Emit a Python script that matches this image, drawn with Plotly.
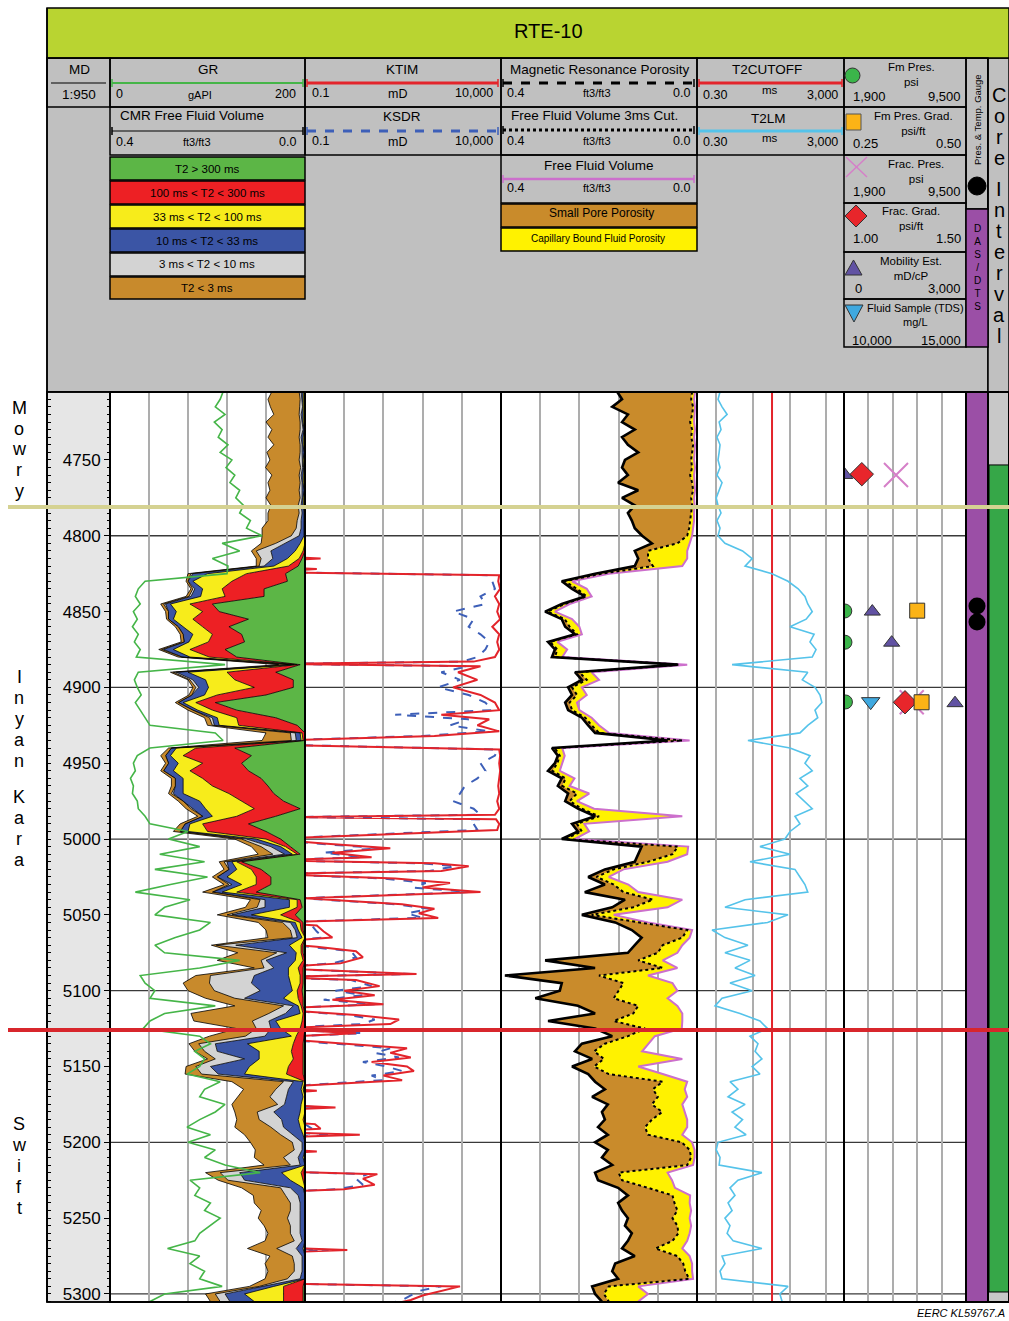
import numpy as np
import plotly.graph_objects as go

W, H = 1009, 1321
FONT = "Arial, Liberation Sans, sans-serif"

# ---------------------------------------------------------------- data
depth = [4705, 4710, 4715, 4720, 4725, 4730, 4735, 4740, 4745, 4750,
         4755, 4760, 4765, 4770, 4775, 4780, 4785, 4790, 4795, 4800,
         4805, 4810, 4815, 4820, 4825, 4830, 4835, 4840, 4845, 4850,
         4855, 4860, 4865, 4870, 4875, 4880, 4885, 4890, 4895, 4900,
         4905, 4910, 4915, 4920, 4925, 4930, 4935, 4940, 4945, 4950,
         4955, 4960, 4965, 4970, 4975, 4980, 4985, 4990, 4995, 5000,
         5005, 5010, 5015, 5020, 5025, 5030, 5035, 5040, 5045, 5050,
         5055, 5060, 5065, 5070, 5075, 5080, 5085, 5090, 5095, 5100,
         5105, 5110, 5115, 5120, 5125, 5130, 5135, 5140, 5145, 5150,
         5155, 5160, 5165, 5170, 5175, 5180, 5185, 5190, 5195, 5200,
         5205, 5210, 5215, 5220, 5225, 5230, 5235, 5240, 5245, 5250,
         5255, 5260, 5265, 5270, 5275, 5280, 5285, 5290, 5295, 5300, 5305]

gr_api = [116, 113, 108, 118, 107, 115, 111, 121, 113, 125,
          119, 128, 123, 133, 129, 137, 133, 144, 140, 156,
          115, 133, 105, 121, 120, 36, 29, 26, 31, 24,
          28, 23, 29, 25, 31, 27, 118, 29, 25, 28,
          32, 26, 31, 36, 41, 108, 116, 41, 28, 24,
          26, 21, 24, 23, 28, 29, 36, 41, 80, 60,
          92, 51, 97, 46, 100, 62, 26, 82, 56, 46,
          103, 92, 67, 46, 56, 133, 92, 31, 36, 46,
          41, 108, 56, 41, 34, 92, 103, 87, 97, 92,
          79, 113, 97, 92, 118, 108, 92, 79, 103, 80,
          108, 97, 118, 154, 82, 92, 87, 103, 97, 113,
          103, 92, 87, 59, 92, 82, 97, 92, 115, 56, 41]

cmr_gt300 = [0.002, 0.002, 0.002, 0.002, 0.002, 0.002, 0.002, 0.002, 0.002, 0.002,
             0.001, 0.002, 0.002, 0.002, 0.002, 0.002, 0, 0, 0, 0,
             0, 0, 0.006, 0.014, 0.040, 0.036, 0.084, 0.084, 0.190, 0.176,
             0.116, 0.156, 0.130, 0.124, 0.164, 0.140, 0.010, 0.060, 0.024, 0.024,
             0.080, 0.184, 0.140, 0.060, 0.016, 0, 0, 0.144, 0.110, 0.130,
             0.116, 0.090, 0.076, 0.064, 0.044, 0.010, 0.060, 0.116, 0.080, 0.050,
             0.030, 0.010, 0.130, 0.090, 0.070, 0.070, 0.100, 0.010, 0.006, 0.020,
             0.004, 0.004, 0, 0.004, 0.004, 0, 0.004, 0.004, 0.004, 0.006,
             0.004, 0.004, 0, 0, 0, 0.002, 0.004, 0.004, 0.004, 0.004,
             0.004, 0, 0.004, 0, 0, 0, 0, 0, 0, 0,
             0, 0, 0, 0.002, 0, 0, 0, 0, 0, 0,
             0, 0, 0, 0, 0, 0, 0, 0, 0.004, 0.004, 0.004]
cmr_100_300 = [0, 0, 0, 0, 0, 0, 0, 0, 0, 0,
               0, 0, 0, 0, 0, 0, 0, 0, 0, 0,
               0, 0.004, 0.006, 0.020, 0.080, 0.114, 0.086, 0.080, 0.046, 0.034,
               0.114, 0.054, 0.060, 0.074, 0.072, 0.056, 0.006, 0.100, 0.120, 0.080,
               0.100, 0.040, 0.050, 0.080, 0.120, 0.006, 0.004, 0.080, 0.140, 0.080,
               0.120, 0.120, 0.114, 0.092, 0.086, 0.094, 0.080, 0.094, 0.120, 0.030,
               0.010, 0.006, 0.010, 0.020, 0.030, 0.030, 0.040, 0.006, 0.010, 0.030,
               0.006, 0.004, 0, 0.004, 0.004, 0.004, 0.010, 0.006, 0.006, 0.010,
               0.010, 0.004, 0.004, 0.006, 0.010, 0.016, 0.020, 0.024, 0.020, 0.030,
               0.034, 0, 0, 0, 0, 0, 0.004, 0, 0, 0,
               0, 0, 0, 0.006, 0.004, 0, 0, 0, 0, 0,
               0, 0, 0, 0, 0, 0, 0, 0, 0.040, 0.040, 0.040]
cmr_33_100 = [0.002, 0.002, 0.001, 0.002, 0.002, 0, 0.002, 0.002, 0, 0.002,
              0.002, 0.002, 0.002, 0, 0.002, 0.002, 0.002, 0.002, 0.002, 0.002,
              0.010, 0.016, 0.024, 0.030, 0.080, 0.080, 0.040, 0.050, 0.040, 0.054,
              0.040, 0.040, 0.040, 0.040, 0.034, 0.040, 0.006, 0.080, 0.060, 0.094,
              0.026, 0.026, 0.030, 0.040, 0.040, 0.004, 0.004, 0.040, 0.026, 0.050,
              0.034, 0.040, 0.060, 0.094, 0.086, 0.100, 0.050, 0.026, 0.040, 0.020,
              0.010, 0.010, 0.010, 0.030, 0.060, 0.030, 0.030, 0.016, 0.016, 0.060,
              0.010, 0.006, 0.006, 0.024, 0.010, 0.016, 0.020, 0.024, 0.020, 0.010,
              0.030, 0.006, 0.006, 0.054, 0.040, 0.010, 0.094, 0.066, 0.070, 0.080,
              0.086, 0.004, 0.004, 0.004, 0.008, 0.010, 0.010, 0.010, 0.004, 0,
              0, 0.004, 0, 0.040, 0.026, 0.004, 0, 0, 0, 0,
              0, 0, 0, 0.004, 0, 0, 0, 0, 0.020, 0.080, 0.060]
cmr_10_33 = [0.004, 0.002, 0.002, 0.004, 0.002, 0.002, 0.004, 0.002, 0.004, 0.002,
             0.002, 0.004, 0.002, 0.004, 0.002, 0.004, 0.004, 0.006, 0.006, 0.010,
             0.030, 0.050, 0.030, 0.020, 0.030, 0.010, 0.016, 0.020, 0.010, 0.016,
             0.010, 0.010, 0.020, 0.010, 0.020, 0.016, 0.006, 0.024, 0.026, 0.020,
             0.026, 0.010, 0.010, 0.010, 0.010, 0.010, 0.010, 0.010, 0.010, 0.020,
             0.020, 0.016, 0.016, 0.020, 0.034, 0.026, 0.020, 0.010, 0.016, 0.020,
             0.020, 0.016, 0.010, 0.016, 0.020, 0.020, 0.020, 0.050, 0.050, 0.040,
             0.010, 0.006, 0.010, 0.110, 0.020, 0.060, 0.030, 0.070, 0.080, 0.066,
             0.080, 0.010, 0.030, 0.014, 0.020, 0.054, 0.066, 0.086, 0.030, 0.080,
             0.054, 0.020, 0.026, 0.034, 0.034, 0.054, 0.034, 0.034, 0.020, 0.006,
             0.006, 0.010, 0.010, 0.086, 0.094, 0.026, 0.014, 0.010, 0.010, 0.010,
             0.010, 0.010, 0.006, 0.014, 0.006, 0.006, 0.006, 0.010, 0.020, 0.040, 0.050]
cmr_3_10 = [0.004, 0.004, 0.006, 0.004, 0.004, 0.006, 0.004, 0.004, 0.004, 0.006,
            0.004, 0.004, 0.004, 0.006, 0.004, 0.006, 0.006, 0.008, 0.010, 0.016,
            0.020, 0.030, 0.024, 0.010, 0.004, 0, 0.004, 0.004, 0.004, 0,
            0, 0, 0, 0, 0.004, 0, 0.006, 0.006, 0.006, 0.006,
            0, 0, 0, 0.006, 0.004, 0.010, 0.010, 0, 0, 0,
            0, 0, 0, 0.004, 0, 0.004, 0, 0, 0, 0.010,
            0.020, 0.024, 0.006, 0, 0, 0.006, 0, 0.010, 0.016, 0.010,
            0.016, 0.010, 0.010, 0.040, 0.020, 0.010, 0.020, 0.090, 0.086, 0.094,
            0.020, 0.020, 0.034, 0.034, 0.030, 0.040, 0.034, 0.026, 0.060, 0.030,
            0.034, 0.020, 0.026, 0.034, 0.014, 0.034, 0.046, 0.026, 0.026, 0.020,
            0.016, 0.030, 0.020, 0.040, 0.034, 0.020, 0.026, 0.020, 0.020, 0.026,
            0.020, 0.020, 0.016, 0.040, 0.020, 0.016, 0.016, 0.026, 0.010, 0.020, 0.020]
cmr_lt3 = [0.056, 0.066, 0.060, 0.052, 0.070, 0.058, 0.064, 0.054, 0.068, 0.060,
           0.072, 0.056, 0.066, 0.060, 0.070, 0.056, 0.064, 0.060, 0.070, 0.060,
           0.030, 0.010, 0.010, 0.006, 0.006, 0.004, 0.004, 0.006, 0.006, 0.006,
           0.004, 0.006, 0.006, 0.006, 0.006, 0.008, 0.020, 0.006, 0.004, 0.006,
           0.006, 0.006, 0.010, 0.010, 0.010, 0.050, 0.060, 0.006, 0.010, 0.006,
           0.006, 0.008, 0.008, 0.006, 0.010, 0.010, 0.010, 0.010, 0.014, 0.014,
           0.020, 0.030, 0.010, 0.010, 0.010, 0.010, 0.020, 0.020, 0.024, 0.020,
           0.050, 0.050, 0.050, 0.010, 0.080, 0.090, 0.020, 0.030, 0.054, 0.054,
           0.060, 0.100, 0.160, 0.120, 0.040, 0.074, 0.020, 0.020, 0.016, 0.020,
           0.034, 0.106, 0.066, 0.066, 0.094, 0.046, 0.046, 0.074, 0.074, 0.086,
           0.080, 0.060, 0.054, 0.030, 0.020, 0.080, 0.066, 0.074, 0.060, 0.060,
           0.054, 0.046, 0.060, 0.060, 0.046, 0.060, 0.054, 0.046, 0.020, 0.020, 0.020]

mrp = [0.163, 0.153, 0.173, 0.141, 0.153, 0.127, 0.153, 0.141, 0.120, 0.147,
       0.153, 0.141, 0.161, 0.120, 0.153, 0.127, 0.141, 0.133, 0.127, 0.112,
       0.092, 0.127, 0.120, 0.127, 0.208, 0.276, 0.255, 0.229, 0.276, 0.310,
       0.276, 0.269, 0.249, 0.304, 0.290, 0.296, 0.040, 0.249, 0.235, 0.263,
       0.255, 0.269, 0.263, 0.235, 0.222, 0.208, 0.060, 0.296, 0.284, 0.290,
       0.304, 0.276, 0.284, 0.263, 0.269, 0.243, 0.208, 0.255, 0.243, 0.276,
       0.113, 0.120, 0.127, 0.188, 0.222, 0.188, 0.229, 0.147, 0.173, 0.235,
       0.167, 0.133, 0.113, 0.127, 0.141, 0.310, 0.208, 0.392, 0.276, 0.280,
       0.330, 0.243, 0.208, 0.304, 0.208, 0.173, 0.235, 0.249, 0.214, 0.255,
       0.222, 0.208, 0.188, 0.214, 0.182, 0.194, 0.188, 0.202, 0.182, 0.208,
       0.182, 0.194, 0.173, 0.208, 0.202, 0.161, 0.141, 0.161, 0.153, 0.141,
       0.147, 0.133, 0.141, 0.153, 0.127, 0.167, 0.173, 0.161, 0.214, 0.208, 0.194]
ffv_3ms = [0.010, 0.012, 0.008, 0.010, 0.014, 0.010, 0.012, 0.008, 0.010, 0.012,
           0.010, 0.014, 0.010, 0.008, 0.012, 0.010, 0.012, 0.014, 0.016, 0.020,
           0.040, 0.100, 0.100, 0.090, 0.195, 0.270, 0.245, 0.225, 0.270, 0.305,
           0.270, 0.260, 0.245, 0.300, 0.285, 0.290, 0.035, 0.240, 0.225, 0.255,
           0.245, 0.260, 0.255, 0.228, 0.215, 0.200, 0.030, 0.290, 0.280, 0.285,
           0.295, 0.268, 0.275, 0.245, 0.260, 0.235, 0.200, 0.245, 0.235, 0.270,
           0.039, 0.050, 0.100, 0.170, 0.205, 0.170, 0.150, 0.090, 0.130, 0.215,
           0.120, 0.020, 0.030, 0.070, 0.080, 0.120, 0.070, 0.200, 0.150, 0.160,
           0.170, 0.120, 0.130, 0.170, 0.106, 0.141, 0.188, 0.210, 0.190, 0.210,
           0.180, 0.070, 0.090, 0.080, 0.092, 0.071, 0.092, 0.106, 0.100, 0.031,
           0.015, 0.012, 0.020, 0.160, 0.153, 0.100, 0.050, 0.046, 0.040, 0.050,
           0.040, 0.038, 0.050, 0.085, 0.040, 0.028, 0.024, 0.016, 0.180, 0.190, 0.180]
ffv = [0.004, 0.006, 0.004, 0.005, 0.006, 0.004, 0.006, 0.004, 0.005, 0.006,
       0.004, 0.006, 0.005, 0.004, 0.006, 0.005, 0.006, 0.006, 0.008, 0.010,
       0.015, 0.020, 0.020, 0.030, 0.180, 0.255, 0.225, 0.215, 0.260, 0.290,
       0.255, 0.240, 0.235, 0.285, 0.265, 0.275, 0.020, 0.215, 0.200, 0.235,
       0.225, 0.245, 0.240, 0.215, 0.200, 0.180, 0.015, 0.275, 0.270, 0.275,
       0.280, 0.250, 0.260, 0.220, 0.245, 0.210, 0.030, 0.230, 0.220, 0.250,
       0.018, 0.020, 0.060, 0.150, 0.180, 0.140, 0.120, 0.030, 0.060, 0.170,
       0.100, 0.010, 0.015, 0.030, 0.040, 0.070, 0.040, 0.100, 0.050, 0.040,
       0.060, 0.040, 0.030, 0.030, 0.031, 0.086, 0.100, 0.112, 0.030, 0.120,
       0.070, 0.020, 0.025, 0.020, 0.030, 0.025, 0.020, 0.020, 0.030, 0.010,
       0.005, 0.005, 0.008, 0.060, 0.051, 0.045, 0.014, 0.015, 0.012, 0.015,
       0.012, 0.015, 0.020, 0.030, 0.015, 0.010, 0.010, 0.008, 0.120, 0.100, 0.120]

t2lm_ms = [1.27, 1.12, 1.44, 1.98, 1.2, 1.35, 1.05, 1.27, 1.2, 1.12,
           1.27, 1.05, 1.44, 1.2, 1.0, 1.12, 1.35, 1.05, 1.27, 1.12,
           1.73, 5.2, 9.5, 6.1, 33, 90, 170, 260, 310, 410,
           280, 102, 460, 356, 520, 410, 2.7, 310, 220, 487,
           666, 750, 487, 580, 310, 190, 7.3, 102, 356, 260,
           410, 190, 310, 150, 240, 410, 139, 190, 102, 74,
           15.5, 102, 8.3, 139, 190, 260, 310, 6.1, 1.73, 90,
           25, 0.77, 1.73, 7.3, 1.73, 8.3, 3.24, 11.4, 2.37, 9.5,
           1.44, 0.93, 4.44, 15.5, 25, 8.3, 13.7, 11.4, 17.5, 9.5,
           15.5, 2.37, 3.9, 2.1, 6.1, 2.7, 5.2, 3.24, 6.5, 1.12,
           1.0, 1.27, 1.2, 17.5, 3.9, 2.37, 3.24, 2.1, 2.7, 1.73,
           2.37, 1.98, 2.9, 17.5, 1.44, 1.73, 1.27, 1.44, 90, 54, 62]
t2cutoff_ms = 33

perm_depth = [4705.2, 4813, 4815, 4817, 4820, 4822, 4824, 4826, 4830, 4835,
              4840, 4845, 4850, 4855, 4860, 4865, 4870, 4875, 4880, 4883,
              4884.5, 4886, 4890, 4895, 4900, 4905, 4910, 4915, 4918, 4921,
              4925, 4929, 4932, 4935, 4938, 4941, 4945, 4950, 4955, 4960,
              4965, 4970, 4975, 4980, 4984, 4985.5, 4987, 4990, 4994, 4997,
              5000, 5003, 5006, 5009, 5012, 5014, 5016, 5018, 5021, 5023,
              5026, 5029, 5032, 5035, 5039, 5043, 5046, 5049, 5052, 5055,
              5057, 5061, 5065, 5068, 5071, 5074, 5078, 5082, 5085, 5089,
              5091, 5093, 5097, 5100, 5103, 5106, 5109, 5112, 5116, 5119,
              5122, 5125, 5128, 5131, 5134, 5138, 5141, 5144, 5147, 5150,
              5153, 5156, 5159, 5162, 5164, 5166, 5168, 5175, 5177, 5179,
              5186, 5188, 5191, 5193, 5195, 5197, 5204, 5206, 5208, 5219,
              5221, 5224, 5228, 5231, 5233, 5269, 5271, 5273, 5293, 5295,
              5298, 5301, 5304, 5305.3]
ktim_md = [0.01, 0.01, 0.25, 0.01, 0.01, 0.2, 0.01, 9000, 8500, 9500,
           7000, 9000, 8000, 9500, 6000, 9000, 8000, 9000, 7000, 2000,
           0.02, 3000, 800, 2500, 600, 3000, 7000, 9000, 300, 5000,
           2500, 9000, 200, 0.02, 0.03, 9000, 9500, 9000, 9500, 9000,
           8500, 9000, 8000, 9000, 7000, 0.05, 7500, 9000, 8000, 10,
           0.01, 0.3, 15, 0.5, 5, 0.01, 200, 1500, 300, 0.01,
           20, 500, 100, 3000, 0.1, 30, 200, 80, 250, 0.01,
           0.2, 0.3, 0.5, 0.01, 0.2, 2, 3, 0.8, 0.01, 70,
           0.01, 2, 8, 1, 6, 0.5, 10, 0.01, 2, 25,
           15, 0.01, 2, 0.01, 0.3, 40, 15, 50, 5, 40,
           60, 10, 30, 0.2, 0.01, 0.2, 0.01, 0.01, 0.6, 0.01,
           0.01, 0.18, 0.25, 0.01, 2.5, 0.01, 0.01, 0.2, 0.01, 0.01,
           7, 3, 6, 1, 0.01, 0.01, 1.2, 0.01, 0.01, 900,
           300, 100, 50, 30]
ksdr_md = [0.01, 0.01, 0.15, 0.01, 0.01, 0.12, 0.01, 5000, 6000, 7000,
           3000, 4000, 600, 2000, 1500, 3000, 5000, 4000, 2500, 1000,
           0.02, 1500, 300, 900, 250, 1500, 4000, 6000, 20, 1500,
           500, 5000, 100, 0.02, 0.05, 8000, 7000, 3000, 4000, 2500,
           1200, 900, 600, 2000, 3000, 0.05, 3000, 2000, 2500, 6,
           0.01, 0.2, 8, 0.3, 3, 0.01, 100, 700, 150, 0.01,
           10, 120, 60, 1500, 0.08, 20, 150, 40, 100, 0.01,
           0.15, 0.2, 0.3, 0.01, 0.15, 1.5, 2, 0.5, 0.01, 50,
           0.01, 1.5, 5, 0.6, 3, 0.3, 6, 0.01, 1.2, 6,
           3, 0.01, 3, 0.01, 0.2, 15, 6, 25, 3, 12,
           30, 5, 10, 0.15, 0.01, 0.12, 0.01, 0.01, 0.3, 0.01,
           0.01, 0.1, 0.15, 0.01, 0.8, 0.01, 0.01, 0.12, 0.01, 0.01,
           4, 2, 3, 0.6, 0.01, 0.01, 0.4, 0.01, 0.01, 300,
           80, 50, 30, 20]

fm_pres_depth = [4849.6, 4870.2, 4909.6]
fm_pres_psi = [1950, 1960, 1990]
fm_grad_depth = [4849.4, 4909.8]
fm_grad_psift = [0.400, 0.409]
frac_pres_depth = [4759.9, 4909.8]
frac_pres_psi = [5140, 6120]
frac_grad_depth = [4759.4, 4909.8]
frac_grad_psift = [1.073, 1.250]
mobility_depth = [4759.9, 4850.0, 4870.5, 4910.4]
mobility_mdcp = [20, 696, 1172, 2730]
tds_depth = [4909.4]
tds_mgl = [11094]
gauge_depth = [4846.3, 4856.9]

formations = ["Mowry", "Inyan Kara", "Swift"]
formation_contacts = [4781.0, 5126.0]
contact_colors = ["#d5d292", "#d8262c"]
core_top, core_base = 4753.3, 5298.7
depth_top, depth_base = 4705.2, 5305.3
depth_labels = [4750, 4800, 4850, 4900, 4950, 5000, 5050, 5100, 5150, 5200, 5250, 5300]
grid_depths = [4800, 4900, 5000, 5100, 5200, 5300]

cmr_bins = [("T2 &gt; 300 ms", cmr_gt300, "#5cb646"),
            ("100 ms &lt; T2 &lt; 300 ms", cmr_100_300, "#ed2024"),
            ("33 ms &lt; T2 &lt; 100 ms", cmr_33_100, "#f7ec1b"),
            ("10 ms &lt; T2 &lt; 33 ms", cmr_10_33, "#3b55a5"),
            ("3 ms &lt; T2 &lt; 10 ms", cmr_3_10, "#d3d3d3"),
            ("T2 &lt; 3 ms", cmr_lt3, "#c88a2c")]

# ---------------------------------------------------------------- helpers
def fx(px):
    return px / W


def fy(py):
    return 1 - py / H


shapes, anns = [], []


def rect(x0, y0, x1, y1, fill="rgba(0,0,0,0)", lw=1.5, lc="black", layer="above"):
    shapes.append(dict(type="rect", xref="paper", yref="paper", x0=fx(x0), x1=fx(x1),
                       y0=fy(y1), y1=fy(y0), fillcolor=fill,
                       line=dict(color=lc, width=lw), layer=layer))


def seg(x0, y0, x1, y1, color="black", width=1, dash="solid"):
    shapes.append(dict(type="line", xref="paper", yref="paper", x0=fx(x0), x1=fx(x1),
                       y0=fy(y0), y1=fy(y1), line=dict(color=color, width=width, dash=dash),
                       layer="above"))


def scale(x0, x1, y, color, width, dash="solid"):
    seg(x0, y, x1, y, color, width, dash)
    seg(x0, y - 4, x0, y + 4, color, 1.5)
    seg(x1, y - 4, x1, y + 4, color, 1.5)


def text(x, y, s, size=12, xa="center", angle=0, color="black"):
    anns.append(dict(x=fx(x), y=fy(y), xref="paper", yref="paper", text=s, showarrow=False,
                     xanchor=xa, yanchor="middle", textangle=angle,
                     font=dict(size=size, color=color, family=FONT)))


def path(pts, fill, lc="#333333", lw=1):
    d = "M " + " L ".join(f"{fx(a):.5f},{fy(b):.5f}" for a, b in pts) + " Z"
    shapes.append(dict(type="path", xref="paper", yref="paper", path=d, fillcolor=fill,
                       line=dict(color=lc, width=lw), layer="above"))


# ---------------------------------------------------------------- traces
fig = go.Figure()
nohover = dict(hoverinfo="skip", showlegend=False)

# CMR bins (track 1, base axis x, 0.4 -> 0)
cum = np.zeros(len(depth))
for i, (name, vals, col) in enumerate(cmr_bins):
    cum = cum + np.array(vals, dtype=float)
    fig.add_trace(go.Scatter(x=cum.copy(), y=depth, xaxis="x", yaxis="y", mode="lines",
                             line=dict(color="black", width=0.8),
                             fill="tozerox" if i == 0 else "tonextx", fillcolor=col, **nohover))
# GR (overlay)
fig.add_trace(go.Scatter(x=gr_api, y=depth, xaxis="x2", yaxis="y", mode="lines",
                         line=dict(color="#45b548", width=1.6), **nohover))
# left-edge tick axis helper
fig.add_trace(go.Scatter(x=[None], y=[None], xaxis="x", yaxis="y2", mode="lines", **nohover))

# Permeability
fig.add_trace(go.Scatter(x=ksdr_md, y=perm_depth, xaxis="x3", yaxis="y", mode="lines",
                         line=dict(color="#3d5fb8", width=2, dash="dash"), **nohover))
fig.add_trace(go.Scatter(x=ktim_md, y=perm_depth, xaxis="x3", yaxis="y", mode="lines",
                         line=dict(color="#e3242b", width=2), **nohover))

# MR porosity track
fig.add_trace(go.Scatter(x=ffv, y=depth, xaxis="x4", yaxis="y", mode="lines",
                         line=dict(color="#cc6fcc", width=2), **nohover))
fig.add_trace(go.Scatter(x=ffv_3ms, y=depth, xaxis="x4", yaxis="y", mode="lines",
                         line=dict(color="black", width=2, dash="dot"),
                         fill="tonextx", fillcolor="#fff200", **nohover))
fig.add_trace(go.Scatter(x=mrp, y=depth, xaxis="x4", yaxis="y", mode="lines",
                         line=dict(color="black", width=2.6),
                         fill="tonextx", fillcolor="#c98b2b", **nohover))

# T2 track
fig.add_trace(go.Scatter(x=[t2cutoff_ms, t2cutoff_ms], y=[depth_top, depth_base], xaxis="x5",
                         yaxis="y", mode="lines", line=dict(color="#e3242b", width=2), **nohover))
fig.add_trace(go.Scatter(x=t2lm_ms, y=depth, xaxis="x5", yaxis="y", mode="lines",
                         line=dict(color="#55c3ea", width=1.6), **nohover))

# Pressure / sample points
mk_line = dict(color="#333333", width=1)
fig.add_trace(go.Scatter(x=frac_pres_psi, y=frac_pres_depth, xaxis="x6", yaxis="y", mode="markers",
                         marker=dict(symbol="x-thin", size=24, line=dict(color="#d57fc8", width=2)),
                         **nohover))
fig.add_trace(go.Scatter(x=fm_pres_psi, y=fm_pres_depth, xaxis="x6", yaxis="y", mode="markers",
                         marker=dict(symbol="circle", size=14, color="#3bb54a", line=mk_line), **nohover))
fig.add_trace(go.Scatter(x=frac_grad_psift, y=frac_grad_depth, xaxis="x7", yaxis="y", mode="markers",
                         marker=dict(symbol="diamond", size=18, color="#e8262b", line=mk_line), **nohover))
fig.add_trace(go.Scatter(x=fm_grad_psift, y=fm_grad_depth, xaxis="x8", yaxis="y", mode="markers",
                         marker=dict(symbol="square", size=15, color="#fbb316", line=mk_line), **nohover))
fig.add_trace(go.Scatter(x=mobility_mdcp, y=mobility_depth, xaxis="x9", yaxis="y", mode="markers",
                         marker=dict(symbol="triangle-up", size=14, color="#6152a3", line=mk_line), **nohover))
fig.add_trace(go.Scatter(x=tds_mgl, y=tds_depth, xaxis="x10", yaxis="y", mode="markers",
                         marker=dict(symbol="triangle-down", size=16, color="#3fa9e0", line=mk_line), **nohover))
# DAS / gauge dots
fig.add_trace(go.Scatter(x=[0.5] * len(gauge_depth), y=gauge_depth, xaxis="x11", yaxis="y",
                         mode="markers", marker=dict(symbol="circle", size=17, color="black"), **nohover))

# ---------------------------------------------------------------- axes
GRID = "#adadad"


def xax(domain=None, rng=None, typ="linear", grid=False, overlay=None, **kw):
    d = dict(range=rng, type=typ, anchor="y", showgrid=grid, gridcolor=GRID, gridwidth=1.5,
             zeroline=False, showticklabels=False, ticks="", showline=False, fixedrange=True)
    if domain is not None:
        d["domain"] = [fx(domain[0]), fx(domain[1])]
    if overlay:
        d["overlaying"] = overlay
    d.update(kw)
    return d


ydom = [fy(1302), fy(392)]
layout = dict(
    template="none", width=W, height=H, margin=dict(l=0, r=0, t=0, b=0),
    paper_bgcolor="white", plot_bgcolor="rgba(0,0,0,0)", showlegend=False,
    hovermode=False, font=dict(family=FONT, color="black"),
    xaxis=xax((110, 305), [0.4, 0], grid=True, tick0=0, dtick=0.08),
    xaxis2=xax(None, [0, 200], overlay="x"),
    xaxis3=xax((305, 501), [-1, 4], typ="log", grid=True, dtick=1),
    xaxis4=xax((501, 697), [0.4, 0], grid=True, tick0=0, dtick=0.08),
    xaxis5=xax((697, 844), [np.log10(0.3), np.log10(3000)], typ="log", grid=True,
               tickmode="array", tickvals=[1, 10, 100, 1000]),
    xaxis6=xax((844, 966), [1900, 9500], grid=True, tick0=1900, dtick=1520),
    xaxis7=xax(None, [1.0, 1.5], overlay="x6"),
    xaxis8=xax(None, [0.25, 0.5], overlay="x6"),
    xaxis9=xax(None, [0, 3000], overlay="x6"),
    xaxis10=xax(None, [10000, 15000], overlay="x6"),
    xaxis11=xax((966, 988), [0, 1]),
    yaxis=dict(domain=ydom, range=[depth_base, depth_top], anchor="free", position=fx(110),
               side="left", showgrid=False, zeroline=False, showline=False, ticks="outside",
               ticklen=6, tickwidth=1, tickcolor="black", tickmode="array", tickvals=depth_labels,
               ticktext=[str(d) for d in depth_labels],
               tickfont=dict(size=17, family=FONT, color="black"),
               minor=dict(dtick=5, tick0=4705, ticks="outside", ticklen=3, tickcolor="black",
                          showgrid=False),
               fixedrange=True, automargin=False),
    yaxis2=dict(domain=ydom, range=[depth_base, depth_top], overlaying="y", anchor="free",
                position=fx(47), side="right", showgrid=False, zeroline=False, showline=False,
                ticks="outside", ticklen=3, tickcolor="black", tick0=4705, dtick=5,
                showticklabels=False, fixedrange=True, automargin=False),
)

# ---------------------------------------------------------------- header
rect(47, 58, 988, 392, fill="#c0c0c0", layer="below")
rect(988, 58, 1009, 392, fill="#c0c0c0", layer="below")
rect(47, 8, 1009, 58, fill="#b9d431")
text(548, 31, "RTE-10", 20)

# MD
rect(47, 58, 110, 107)
seg(51, 83, 106, 83, "black", 1)
text(79, 70, "MD", 13.5)
text(79, 94, "1:950", 13.5)

# GR / CMR
rect(110, 58, 305, 107)
text(208, 70, "GR", 13.5)
scale(112, 303, 83, "#45b548", 2)
text(114, 94, "0", 12.5, "left")
text(200, 95, "gAPI", 11)
text(298, 94, "200", 12.5, "right")
rect(110, 107, 305, 155)
text(118, 116, "CMR Free Fluid Volume", 13.5, "left")
scale(112, 303, 131, "black", 1)
text(114, 142, "0.4", 12.5, "left")
text(197, 142, "ft3/ft3", 11)
text(298, 142, "0.0", 12.5, "right")
for (name, _, col), (y0, y1) in zip(cmr_bins, [(157, 180), (181, 204), (205, 228), (229, 252),
                                               (253, 276), (277, 299)]):
    rect(110, y0, 305, y1, fill=col)
    text(207, (y0 + y1) / 2, name, 11.5)

# KTIM / KSDR
rect(305, 58, 501, 107)
text(402, 70, "KTIM", 13.5)
scale(307, 498, 83, "#e3242b", 3)
text(310, 93, "0.1", 12.5, "left")
text(397, 94, "mD", 12.5)
text(495, 93, "10,000", 12.5, "right")
rect(305, 107, 501, 155)
text(402, 117, "KSDR", 13.5)
scale(307, 498, 131, "#3d5fb8", 3, "dash")
text(310, 141, "0.1", 12.5, "left")
text(397, 142, "mD", 12.5)
text(495, 141, "10,000", 12.5, "right")

# MR porosity
rect(501, 58, 697, 107)
text(600, 70, "Magnetic Resonance Porosity", 13.5)
scale(503, 694, 83, "black", 3, "dash")
text(505, 93, "0.4", 12.5, "left")
text(597, 93, "ft3/ft3", 11)
text(692, 93, "0.0", 12.5, "right")
rect(501, 107, 697, 155)
text(594, 116, "Free Fluid Volume 3ms Cut.", 13.5)
scale(503, 694, 130, "black", 3, "dot")
text(505, 141, "0.4", 12.5, "left")
text(597, 141, "ft3/ft3", 11)
text(692, 141, "0.0", 12.5, "right")
rect(501, 155, 697, 203)
text(599, 165, "Free Fluid Volume", 13.5)
scale(503, 694, 179, "#cc6fcc", 2.5)
text(505, 188, "0.4", 12.5, "left")
text(597, 188, "ft3/ft3", 11)
text(692, 188, "0.0", 12.5, "right")
rect(501, 204, 697, 227, fill="#c98b2b")
text(601, 213, "Small Pore Porosity", 12)
rect(501, 228, 697, 251, fill="#fff200")
text(598, 238, "Capillary Bound Fluid Porosity", 10)

# T2
rect(697, 58, 844, 107)
text(767, 70, "T2CUTOFF", 13.5)
scale(699, 842, 83, "#e3242b", 3)
text(701, 95, "0.30", 12.5, "left")
text(770, 90, "ms", 11.5)
text(840, 95, "3,000", 12.5, "right")
rect(697, 107, 844, 155)
text(768, 118, "T2LM", 13.5)
scale(699, 842, 131, "#55c3ea", 3)
text(701, 142, "0.30", 12.5, "left")
text(770, 138, "ms", 11.5)
text(840, 142, "3,000", 12.5, "right")

# points legend
pt_boxes = [(58, 107), (107, 155), (155, 203), (203, 252), (252, 299), (299, 347)]
for y0, y1 in pt_boxes:
    rect(844, y0, 966, y1)
shapes.append(dict(type="circle", xref="paper", yref="paper", x0=fx(845), x1=fx(860),
                   y0=fy(83), y1=fy(68), fillcolor="#3bb54a", line=dict(color="#333", width=1),
                   layer="above"))
text(911, 74.5, "Fm Pres.<br>psi", 11.5)
text(851, 97, "1,900", 13, "left")
text(963, 97, "9,500", 13, "right")
rect(846, 114, 861, 130, fill="#fbb316", lc="#555", lw=1)
text(913, 123, "Fm Pres. Grad.<br>psi/ft", 11.5)
text(851, 143, "0.25", 13, "left")
text(963, 143, "0.50", 13, "right")
seg(846, 157, 867, 177, "#d57fc8", 1.5)
seg(846, 177, 867, 157, "#d57fc8", 1.5)
text(916, 171.5, "Frac. Pres.<br>psi", 11.5)
text(851, 192, "1,900", 13, "left")
text(963, 192, "9,500", 13, "right")
path([(845, 216), (856, 205), (867, 216), (856, 227)], "#e8262b")
text(911, 218.5, "Frac. Grad.<br>psi/ft", 11.5)
text(851, 239, "1.00", 13, "left")
text(963, 239, "1.50", 13, "right")
path([(845, 275), (853.5, 260), (862, 275)], "#6152a3")
text(911, 268.5, "Mobility Est.<br>mD/cP", 11.5)
text(853, 288, "0", 13, "left")
text(963, 288, "3,000", 13, "right")
path([(845, 305), (863, 305), (854, 322)], "#3fa9e0")
text(915, 315, "Fluid Sample (TDS)<br>mg/L", 11)
text(850, 340, "10,000", 13, "left")
text(963, 340, "15,000", 13, "right")

# gauge / DAS header
rect(966, 58, 988, 209)
text(977, 120, "Pres. &amp; Temp. Gauge", 9.5, angle=-90)
shapes.append(dict(type="circle", xref="paper", yref="paper", x0=fx(968), x1=fx(986),
                   y0=fy(195), y1=fy(177), fillcolor="black", line=dict(color="black", width=1),
                   layer="above"))
rect(966, 209, 988, 347, fill="#9b4fa6")
text(977, 267, "D<br>A<br>S<br>/<br>D<br>T<br>S", 10)

# Core Interval label
yy = 95
for ch in "Core Interval":
    if ch == " ":
        yy += 10
        continue
    text(999, yy, ch, 20)
    yy += 21

# ---------------------------------------------------------------- data-area decorations
rect(47, 392, 110, 1302, fill="#e6e6e6", layer="below")
rect(966, 392, 988, 1302, fill="#9b4fa6", layer="below")
rect(988, 392, 1009, 1302, fill="#c8c8c8", layer="below")
shapes.append(dict(type="rect", xref="paper", yref="y", x0=fx(989), x1=fx(1009), y0=core_top,
                   y1=core_base, fillcolor="#36a748", line=dict(color="black", width=1),
                   layer="below"))
for d in grid_depths:
    shapes.append(dict(type="line", xref="paper", yref="y", x0=fx(110), x1=fx(966), y0=d, y1=d,
                       line=dict(color="#3a3a3a", width=1.3), layer="below"))
for a, b in [(110, 305), (305, 501), (501, 697), (697, 844), (844, 966), (966, 988), (988, 1009)]:
    rect(a, 392, b, 1302, lw=2)
rect(47, 392, 110, 1302, lw=1.5)
seg(47, 8, 47, 1302, "black", 1.5)
for d, c in zip(formation_contacts, contact_colors):
    shapes.append(dict(type="line", xref="paper", yref="y", x0=fx(8), x1=fx(1009), y0=d, y1=d,
                       line=dict(color=c, width=4), layer="above"))

# formation names (stacked letters)
bounds = [depth_top] + formation_contacts + [depth_base]
for k, name in enumerate(formations):
    mid = (bounds[k] + bounds[k + 1]) / 2
    offs, p = [], 0.0
    for ch in name:
        if ch == " ":
            p += 16
            continue
        offs.append((ch, p))
        p += 20.8
    last = offs[-1][1]
    for ch, o in offs:
        anns.append(dict(x=fx(19), y=mid, xref="paper", yref="y", text=ch, showarrow=False,
                         xanchor="center", yanchor="middle", yshift=-(o - last / 2),
                         font=dict(size=18, color="black", family=FONT)))

text(1007, 1313, "<i>EERC KL59767.A</i>", 11, "right")

layout["shapes"] = shapes
layout["annotations"] = anns
fig.update_layout(**layout)
fig.write_html(
    "out.html",
    config={"displayModeBar": False},
    post_script=("document.body.style.margin='0px';document.body.style.padding='0px';"
                 "document.documentElement.style.overflow='hidden';"
                 "document.body.style.overflow='hidden';"),
)
